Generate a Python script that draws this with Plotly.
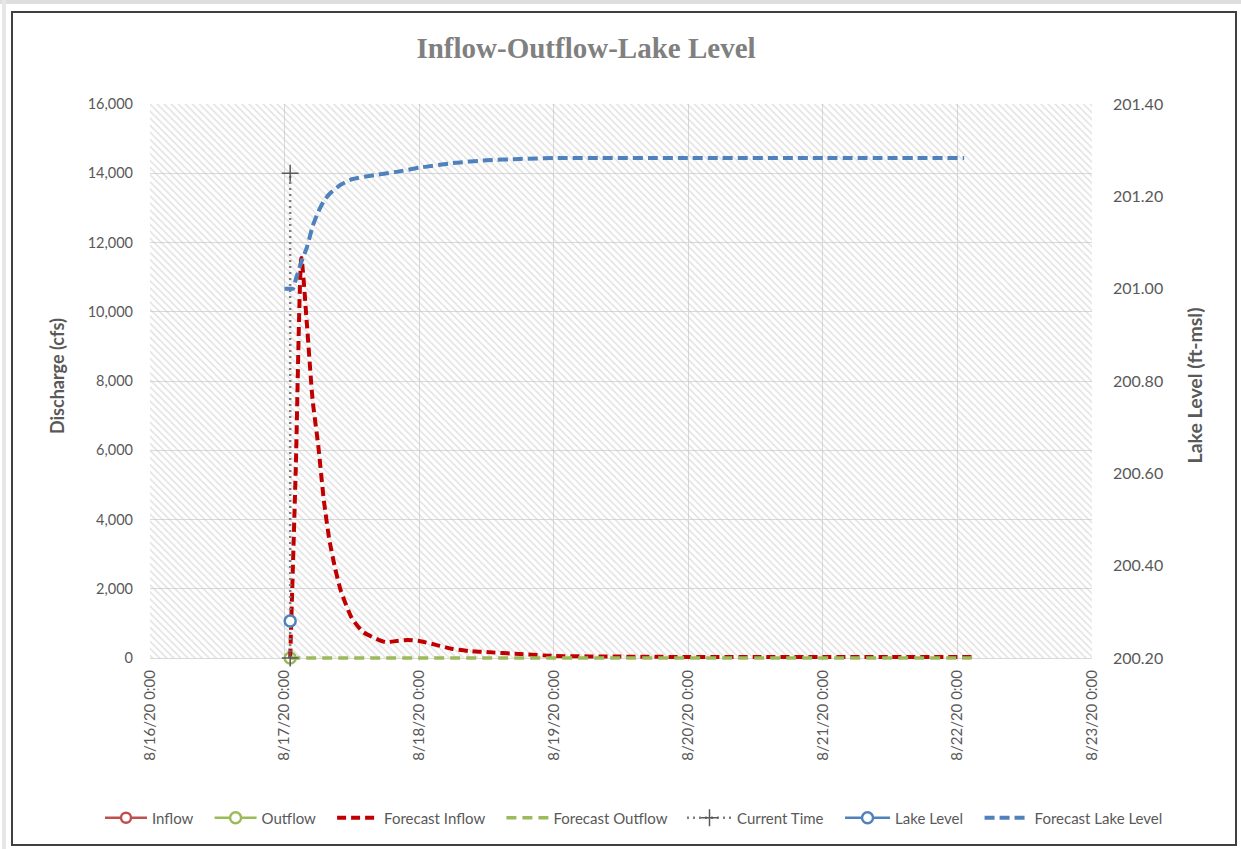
import pandas as pd
import plotly.graph_objects as go

# ---- data -------------------------------------------------------------
base_time = pd.Timestamp("2020-08-17 00:00")
current_hour = 1.0

# observed values at the current time
inflow_hours = [1.0]
inflow_cfs = [0]
outflow_hours = [1.0]
outflow_cfs = [0]
lake_hours = [1.0]
lake_level_ft = [200.28]

# forecast inflow (cfs)
fc_inflow_hours = [1, 2, 3, 4, 5, 6, 7, 8, 9, 10, 12, 14, 16, 18, 20, 22, 24,
                   27, 30, 33, 36, 42, 48, 60, 72, 84, 96, 108, 122.5]
fc_inflow_cfs = [0, 5500, 11550, 9600, 7450, 6150, 4560, 3400, 2600, 1960,
                 1150, 750, 580, 460, 490, 520, 490, 380, 260, 200, 170, 115,
                 60, 40, 30, 30, 30, 30, 30]

# forecast outflow (cfs)
fc_outflow_hours = [1, 24, 48, 72, 96, 122.5]
fc_outflow_cfs = [0, 0, 0, 0, 0, 0]

# forecast lake level (ft-msl)
fc_lake_hours = [0, 1, 1.5, 2, 3, 4, 5, 6, 7, 8, 10, 12, 16, 20, 24, 30, 36,
                 42, 48, 72, 96, 121.2]
fc_lake_ft = [201.00, 201.00, 201.00, 201.02, 201.058, 201.09, 201.135,
              201.166, 201.19, 201.205, 201.225, 201.237, 201.246, 201.253,
              201.262, 201.272, 201.278, 201.281, 201.283, 201.283, 201.283,
              201.283]

# current-time marker line (cfs)
current_line_cfs = [0, 14000]

# axis ticks
x_tick_days = ["2020-08-16", "2020-08-17", "2020-08-18", "2020-08-19",
               "2020-08-20", "2020-08-21", "2020-08-22", "2020-08-23"]
x_tick_text = ["8/16/20 0:00", "8/17/20 0:00", "8/18/20 0:00", "8/19/20 0:00",
               "8/20/20 0:00", "8/21/20 0:00", "8/22/20 0:00", "8/23/20 0:00"]
y_range = [0, 16000]
y2_range = [200.2, 201.4]


def to_time(hours):
    return [base_time + pd.Timedelta(hours=h) for h in hours]


# ---- figure geometry (pixels) ----------------------------------------
W, H = 1241, 849
L, R, T = 150, 1092, 104
ZERO_Y = 658          # pixel row of the 0 cfs baseline
B = 661               # plot area bottom: a few px of room so baseline lines are not clipped

# extend both value axes slightly below the baseline, keeping the same scale
cfs_per_px = (y_range[1] - y_range[0]) / (ZERO_Y - T)
extra_cfs = (B - ZERO_Y) * cfs_per_px
extra_ft = extra_cfs / (y_range[1] - y_range[0]) * (y2_range[1] - y2_range[0])
y_axis_range = [y_range[0] - extra_cfs, y_range[1]]
y2_axis_range = [y2_range[0] - extra_ft, y2_range[1]]


def px(x):
    return (x - L) / (R - L)


def py(y):
    return (B - y) / (B - T)


GRAY_TEXT = "#595959"
FONT = "Lato"
PAD = "\u00a0\u00a0\u00a0"  # extra room between legend entries

fig = go.Figure()

# hatched plot-area background
x0, x1 = pd.Timestamp(x_tick_days[0]), pd.Timestamp(x_tick_days[-1])
fig.add_trace(go.Scatter(
    x=[x0, x1, x1, x0, x0], y=[y_range[0], y_range[0], y_range[1], y_range[1], y_range[0]],
    mode="lines", line=dict(width=0), fill="toself",
    fillcolor="rgba(0,0,0,0)",
    fillpattern=dict(shape="\\", fgcolor="#c4c4c4", bgcolor="rgba(0,0,0,0)",
                     size=5, solidity=0.3),
    hoverinfo="skip", showlegend=False))

fig.add_trace(go.Scatter(
    x=to_time(inflow_hours), y=inflow_cfs, name="Inflow" + PAD, mode="lines+markers",
    line=dict(color="#c0504d", width=2.5), cliponaxis=False,
    marker=dict(symbol="circle", size=10, color="white",
                line=dict(color="#c0504d", width=2.5))))

fig.add_trace(go.Scatter(
    x=to_time(outflow_hours), y=outflow_cfs, name="Outflow" + PAD, mode="lines+markers",
    line=dict(color="#9bbb59", width=2.5), cliponaxis=False,
    marker=dict(symbol="circle", size=11, color="white",
                line=dict(color="#9bbb59", width=2.5))))

fig.add_trace(go.Scatter(
    x=to_time(fc_inflow_hours), y=fc_inflow_cfs, name="Forecast Inflow" + PAD,
    mode="lines", cliponaxis=False,
    line=dict(color="#c00000", width=4, dash="9px,5px",
              shape="spline", smoothing=0.6)))

fig.add_trace(go.Scatter(
    x=to_time(fc_outflow_hours), y=fc_outflow_cfs, name="Forecast Outflow",
    mode="lines", cliponaxis=False,
    line=dict(color="#9bbb59", width=3.5, dash="10px,6px")))

fig.add_trace(go.Scatter(
    x=to_time([current_hour, current_hour]), y=current_line_cfs,
    name="Current Time" + PAD, mode="lines+markers", cliponaxis=False,
    legend="legend2",
    line=dict(color="#7f7f7f", width=2.5, dash="2px,4px"),
    marker=dict(symbol="cross-thin", size=12, color="#595959",
                line=dict(color="#595959", width=1.5))))

fig.add_trace(go.Scatter(
    x=to_time(lake_hours), y=lake_level_ft, name="Lake Level" + PAD, yaxis="y2",
    mode="lines+markers", line=dict(color="#4f81bd", width=2.5), cliponaxis=False,
    legend="legend2",
    marker=dict(symbol="circle", size=11, color="white",
                line=dict(color="#4f81bd", width=2.5))))

fig.add_trace(go.Scatter(
    x=to_time(fc_lake_hours), y=fc_lake_ft, name="Forecast Lake Level",
    yaxis="y2", mode="lines", cliponaxis=False, legend="legend2",
    line=dict(color="#4f81bd", width=4, dash="10px,5px",
              shape="spline", smoothing=0.6)))

# frame around the whole chart
shapes = [
    dict(type="rect", xref="paper", yref="paper",
         x0=px(0), x1=px(W), y0=py(0), y1=py(4),
         fillcolor="#dedede", line=dict(width=0), layer="below"),
    dict(type="rect", xref="paper", yref="paper",
         x0=px(2), x1=px(6), y0=py(0), y1=py(H),
         fillcolor="#e6e6e6", line=dict(width=0), layer="below"),
    dict(type="rect", xref="paper", yref="paper",
         x0=px(12), x1=px(1236), y0=py(12), y1=py(845),
         fillcolor="rgba(0,0,0,0)", line=dict(color="#404040", width=2),
         layer="below"),
]

annotations = [
    dict(text="<b>Discharge (cfs)</b>", xref="paper", yref="paper",
         x=px(44), y=py(376), showarrow=False, textangle=-90,
         font=dict(family=FONT, size=18, color=GRAY_TEXT)),
    dict(text="<b>Lake Level (ft-msl)</b>", xref="paper", yref="paper",
         x=px(1207), y=py(386), showarrow=False, textangle=-90,
         font=dict(family=FONT, size=19.5, color=GRAY_TEXT)),
]

legend_style = dict(orientation="h", xanchor="left", xref="container",
                    yref="container", y=1 - 818 / H, yanchor="middle",
                    bgcolor="rgba(0,0,0,0)", tracegroupgap=0,
                    font=dict(family=FONT, size=15, color=GRAY_TEXT))

fig.update_layout(
    width=W, height=H,
    margin=dict(l=L, r=W - R, t=T, b=H - B, pad=0, autoexpand=False),
    paper_bgcolor="white", plot_bgcolor="white",
    title=dict(text="<b>Inflow-Outflow-Lake Level</b>",
               x=586 / W, xref="container", xanchor="center",
               y=1 - 48 / H, yref="container", yanchor="middle",
               font=dict(family="Liberation Serif", size=29, color="#808080")),
    xaxis=dict(type="date", range=[x_tick_days[0], x_tick_days[-1]],
               tickvals=x_tick_days, ticktext=x_tick_text, tickangle=-90,
               showgrid=True, gridcolor="#d9d9d9", gridwidth=1,
               showline=False, zeroline=False, ticks="",
               ticklabelstandoff=5,
               tickfont=dict(family=FONT, size=15, color=GRAY_TEXT)),
    yaxis=dict(range=y_axis_range, tick0=0, dtick=2000, tickformat=",d",
               showgrid=True, gridcolor="#d9d9d9", gridwidth=1,
               zeroline=False, showline=False, ticks="",
               ticklabelstandoff=16,
               tickfont=dict(family=FONT, size=14.5, color=GRAY_TEXT)),
    yaxis2=dict(range=y2_axis_range, tick0=y2_range[0], dtick=0.2,
                tickformat=".2f", overlaying="y",
                side="right", showgrid=False, zeroline=False, showline=False,
                ticks="", ticklabelstandoff=20,
                tickfont=dict(family=FONT, size=16, color=GRAY_TEXT)),
    legend=dict(legend_style, x=100 / W, itemwidth=42),
    legend2=dict(legend_style, x=682 / W, itemwidth=45),
    shapes=shapes,
    annotations=annotations,
    showlegend=True,
)

fig.write_html("out.html")
